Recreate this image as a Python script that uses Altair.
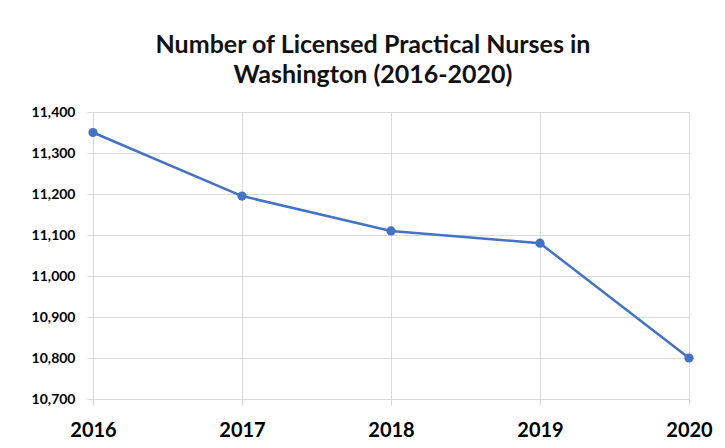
import altair as alt
import pandas as pd

years = ["2016", "2017", "2018", "2019", "2020"]
nurses = [11350, 11195, 11110, 11080, 10800]
y_ticks = [10700, 10800, 10900, 11000, 11100, 11200, 11300, 11400]

df = pd.DataFrame({"year": years, "nurses": nurses})

FONT = "Lato"
BLUE = "#4472C4"
GRID = "#d9d9d9"

base = alt.Chart(df).encode(
    x=alt.X("year:O", sort=years,
            scale=alt.Scale(paddingOuter=0, padding=0),
            axis=alt.Axis(title=None, labelAngle=0, labelFontSize=20, labelFontWeight="bold",
                          labelColor="#000", labelFont=FONT, labelPadding=15,
                          grid=True, gridColor=GRID, domain=False, ticks=True,
                          tickColor=GRID, tickSize=6)),
    y=alt.Y("nurses:Q", scale=alt.Scale(domain=[10700, 11400], nice=False, zero=False),
            axis=alt.Axis(title=None, values=y_ticks, format=",d", labelFontSize=14,
                          labelFontWeight="bold", labelColor="#000", labelFont=FONT,
                          labelPadding=12, grid=True, gridColor=GRID, domain=False,
                          ticks=True, tickColor=GRID, tickSize=6)),
)

line = base.mark_line(color=BLUE, strokeWidth=2.5)
pts = base.mark_point(color=BLUE, filled=True, size=85, opacity=1)

chart = (line + pts).properties(
    width=596, height=287,
    autosize=alt.AutoSizeParams(type="none"),
    padding={"left": 85, "top": 104, "right": 28, "bottom": 48},
    title=alt.TitleParams(
        text=["Number of Licensed Practical Nurses in", "Washington (2016-2020)"],
        fontSize=25, fontWeight="bold", font=FONT, color="#111",
        lineHeight=30, anchor="middle", dx=-18, offset=17,
    ),
).configure_view(stroke=None).configure(background="white")

chart.save("out.html", embed_options={"renderer": "svg", "actions": False})
